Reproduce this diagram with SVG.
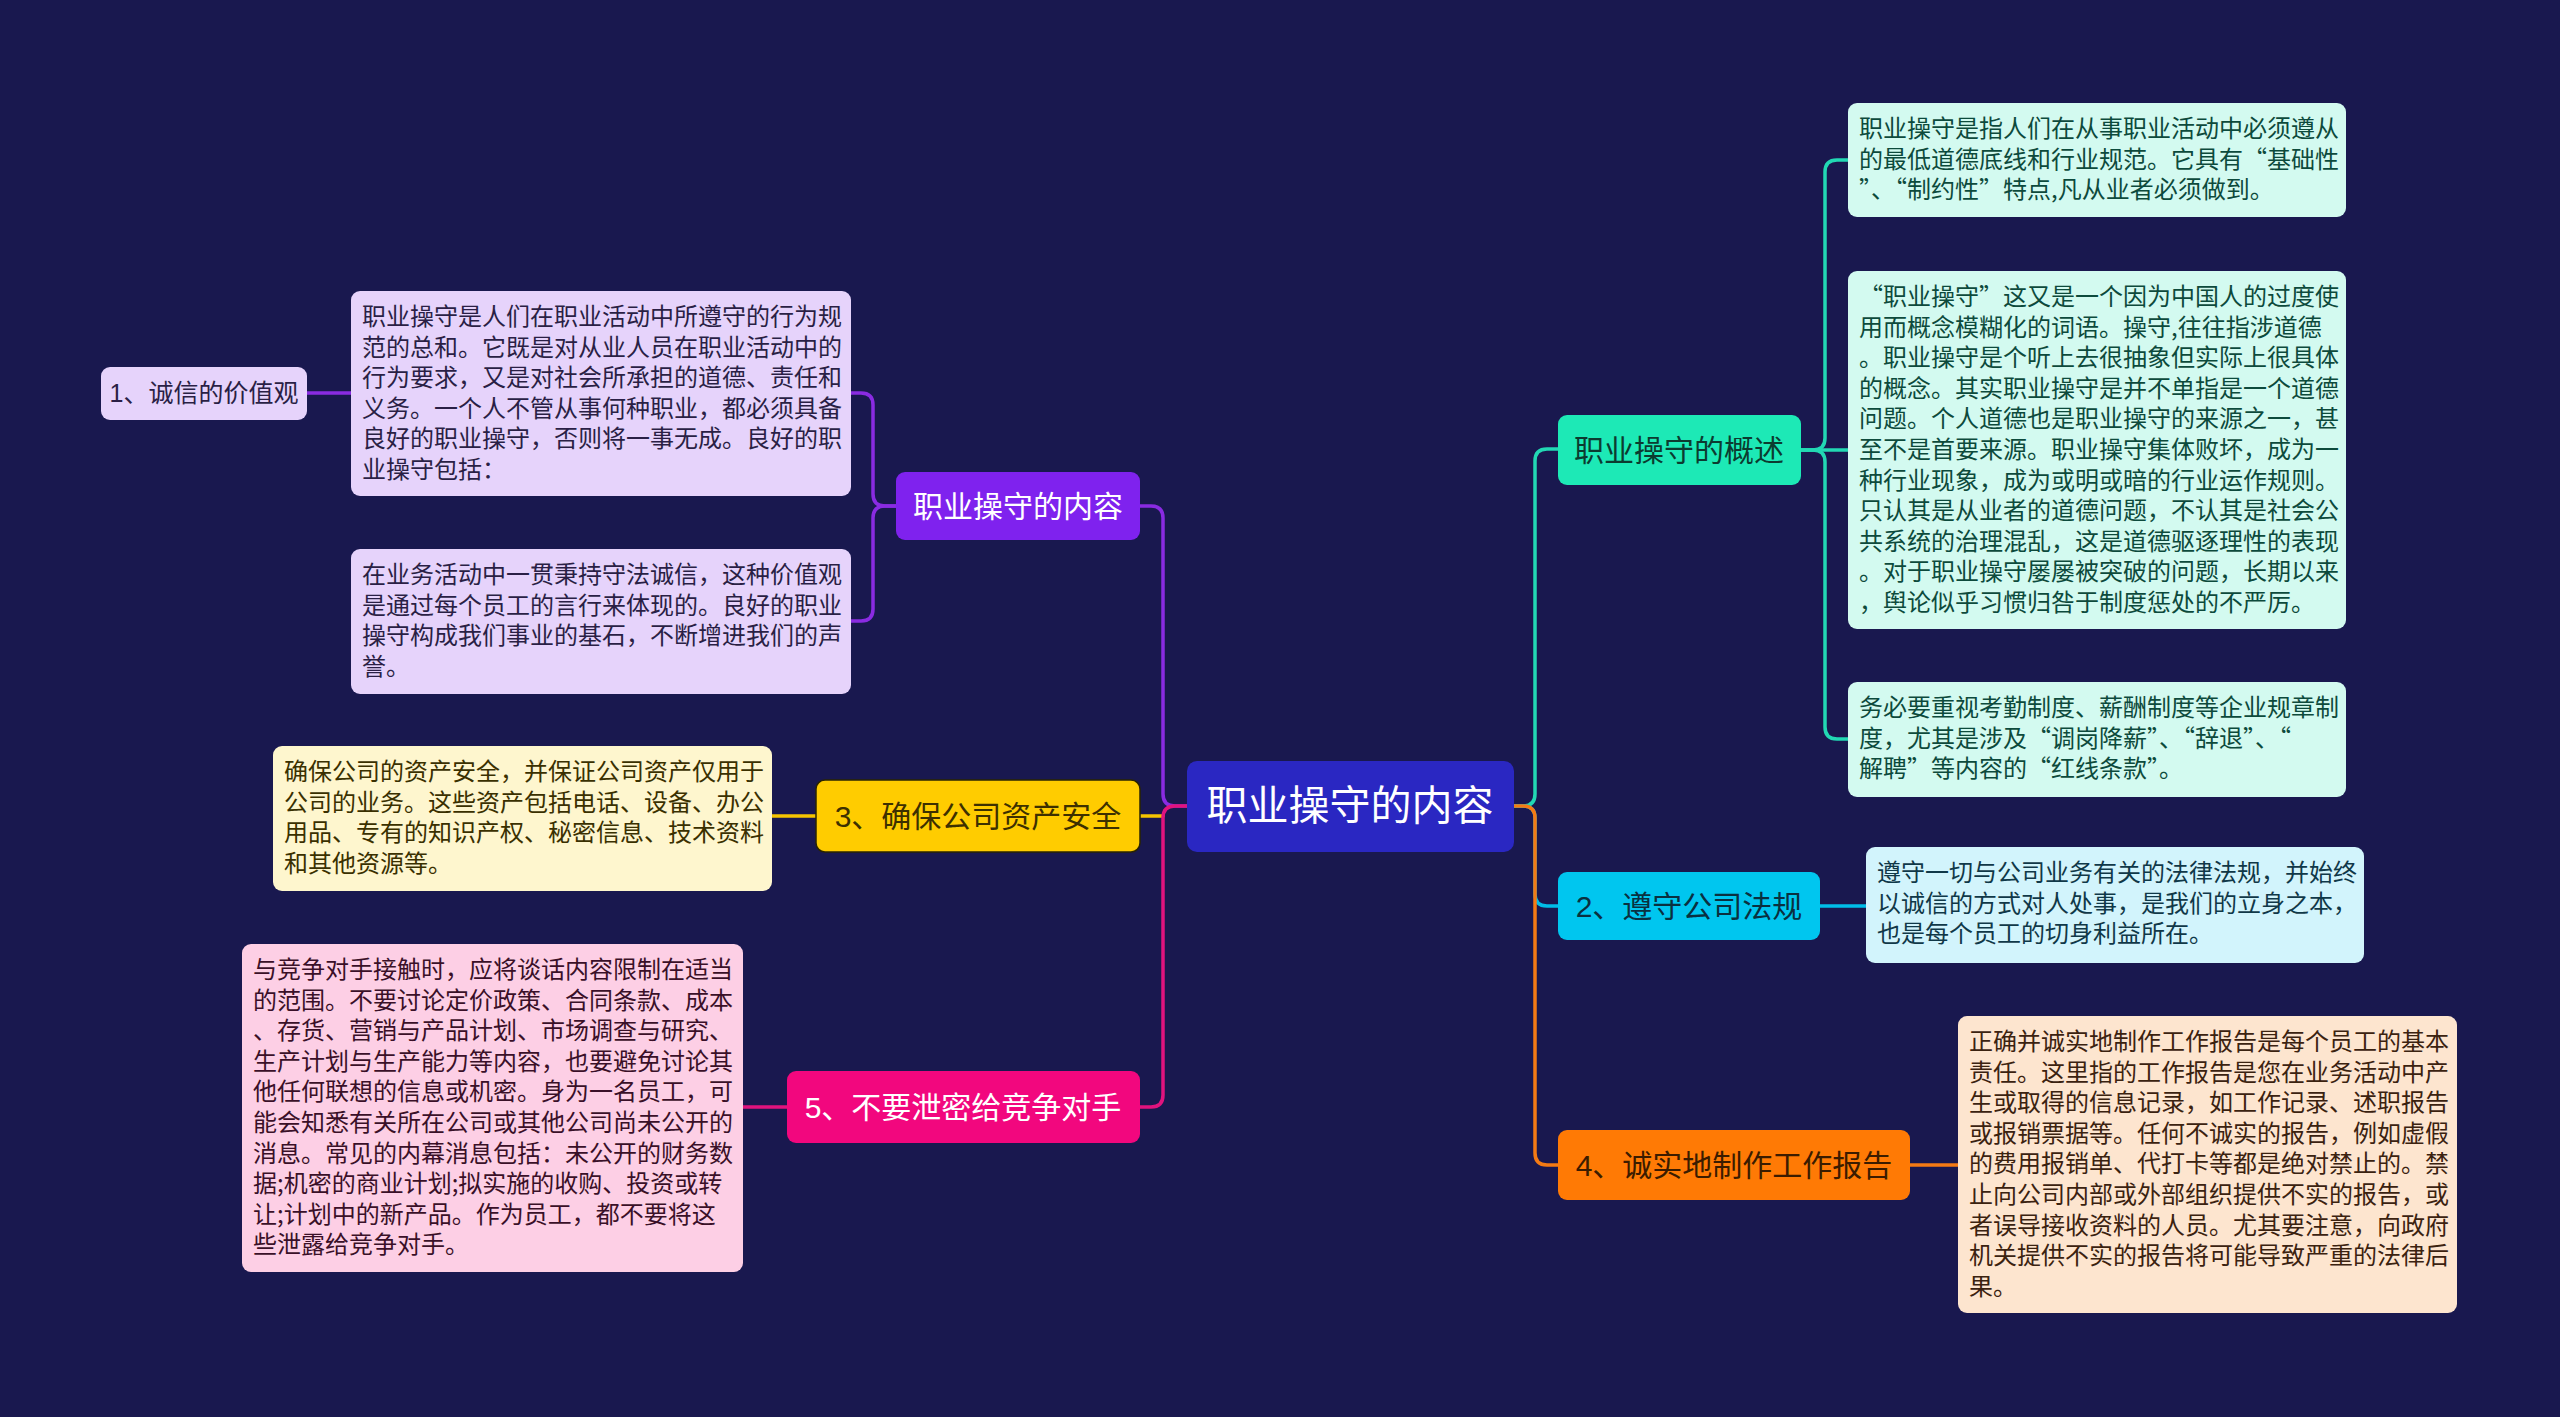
<svg xmlns="http://www.w3.org/2000/svg" width="2560" height="1417" viewBox="0 0 2560 1417">
<style>
text{font-family:"Liberation Sans","Noto Sans CJK SC",sans-serif;}
.box{font-size:24px;font-family:"Noto Sans CJK SC","Liberation Sans",sans-serif;}
.lbl{font-size:30px;text-anchor:middle;dominant-baseline:central;}
.ln{fill:none;stroke-width:3.5;stroke-linecap:round;stroke-linejoin:round;}
</style>
<rect x="0" y="0" width="2560" height="1417" fill="#19184F"/>
<g id="connectors">
<path class="ln" stroke="#8A2BE2" d="M1187,806 H1175 Q1163,806 1163,794 V518 Q1163,506 1151,506 H1140"/>
<path class="ln" stroke="#F5C400" d="M1163,816 H1140"/>
<path class="ln" stroke="#E0137E" d="M1187,806 H1175 Q1163,806 1163,818 V1095 Q1163,1107 1151,1107 H1140"/>
<path class="ln" stroke="#8A2BE2" d="M896,506 H885 Q873,506 873,494 V405 Q873,393 861,393 H851"/>
<path class="ln" stroke="#8A2BE2" d="M896,506 H885 Q873,506 873,518 V609 Q873,621 861,621 H851"/>
<path class="ln" stroke="#8A2BE2" d="M351,393 H307"/>
<path class="ln" stroke="#F5C400" d="M816,816 H772"/>
<path class="ln" stroke="#E0137E" d="M787,1107 H743"/>
<path class="ln" stroke="#22D8B4" d="M1514,806 H1523 Q1535,806 1535,794 V461 Q1535,449 1547,449 H1558"/>
<path class="ln" stroke="#00BDE8" d="M1514,806 H1523 Q1535,806 1535,818 V894 Q1535,906 1547,906 H1558"/>
<path class="ln" stroke="#F47A14" d="M1514,806 H1523 Q1535,806 1535,818 V1153 Q1535,1165 1547,1165 H1558"/>
<path class="ln" stroke="#22D8B4" d="M1801,450 H1813 Q1825,450 1825,438 V172 Q1825,160 1837,160 H1848"/>
<path class="ln" stroke="#22D8B4" d="M1801,450 H1848"/>
<path class="ln" stroke="#22D8B4" d="M1801,450 H1813 Q1825,450 1825,462 V727 Q1825,739 1837,739 H1848"/>
<path class="ln" stroke="#00BDE8" d="M1820,906 H1866"/>
<path class="ln" stroke="#F47A14" d="M1910,1165 H1958"/>
</g>
<g id="root">
<rect x="1187" y="761" width="327" height="91" rx="10" fill="#2A27C2"/>
<text x="1350" y="806" font-size="41" text-anchor="middle" dominant-baseline="central" fill="#FFFFFF">职业操守的内容</text>
</g>
<g id="n-content">
<rect x="896" y="472" width="244" height="68" rx="9" fill="#7F22EE"/>
<text class="lbl" x="1018" y="506" fill="#FFFFFF">职业操守的内容</text>
</g>
<g id="n-honesty">
<rect x="101" y="367" width="206" height="53" rx="9" fill="#E6D3FB"/>
<text x="204" y="393" font-size="25" text-anchor="middle" dominant-baseline="central" fill="#2A1F45">1、诚信的价值观</text>
</g>
<g id="t-a">
<rect x="351" y="291" width="500" height="205" rx="9" fill="#E6D3FB"/>
<text class="box" fill="#2A1F45"><tspan x="362" y="325">职业操守是人们在职业活动中所遵守的行为规</tspan><tspan x="362" y="355.6">范的总和。它既是对从业人员在职业活动中的</tspan><tspan x="362" y="386.2">行为要求，又是对社会所承担的道德、责任和</tspan><tspan x="362" y="416.8">义务。一个人不管从事何种职业，都必须具备</tspan><tspan x="362" y="447.4">良好的职业操守，否则将一事无成。良好的职</tspan><tspan x="362" y="478">业操守包括：</tspan></text>
</g>
<g id="t-b">
<rect x="351" y="549" width="500" height="145" rx="9" fill="#E6D3FB"/>
<text class="box" fill="#2A1F45"><tspan x="362" y="583">在业务活动中一贯秉持守法诚信，这种价值观</tspan><tspan x="362" y="613.6">是通过每个员工的言行来体现的。良好的职业</tspan><tspan x="362" y="644.2">操守构成我们事业的基石，不断增进我们的声</tspan><tspan x="362" y="674.8">誉。</tspan></text>
</g>
<g id="n-assets">
<rect x="816" y="780" width="324" height="72" rx="9" fill="#FFCC00" stroke="#2a2400" stroke-width="1.5"/>
<text class="lbl" x="978" y="816" fill="#3D3000">3、确保公司资产安全</text>
</g>
<g id="t-c">
<rect x="273" y="746" width="499" height="145" rx="9" fill="#FEF6CE"/>
<text class="box" fill="#3A3000"><tspan x="284" y="780">确保公司的资产安全，并保证公司资产仅用于</tspan><tspan x="284" y="810.6">公司的业务。这些资产包括电话、设备、办公</tspan><tspan x="284" y="841.2">用品、专有的知识产权、秘密信息、技术资料</tspan><tspan x="284" y="871.8">和其他资源等。</tspan></text>
</g>
<g id="n-secret">
<rect x="787" y="1071" width="353" height="72" rx="9" fill="#F2077E"/>
<text class="lbl" x="963" y="1107" fill="#FFFFFF">5、不要泄密给竞争对手</text>
</g>
<g id="t-d">
<rect x="242" y="944" width="501" height="328" rx="9" fill="#FDCFE5"/>
<text class="box" fill="#3A1028"><tspan x="253" y="978">与竞争对手接触时，应将谈话内容限制在适当</tspan><tspan x="253" y="1008.6">的范围。不要讨论定价政策、合同条款、成本</tspan><tspan x="253" y="1039.2">、存货、营销与产品计划、市场调查与研究、</tspan><tspan x="253" y="1069.8">生产计划与生产能力等内容，也要避免讨论其</tspan><tspan x="253" y="1100.4">他任何联想的信息或机密。身为一名员工，可</tspan><tspan x="253" y="1131">能会知悉有关所在公司或其他公司尚未公开的</tspan><tspan x="253" y="1161.6">消息。常见的内幕消息包括：未公开的财务数</tspan><tspan x="253" y="1192.2">据;机密的商业计划;拟实施的收购、投资或转</tspan><tspan x="253" y="1222.8">让;计划中的新产品。作为员工，都不要将这</tspan><tspan x="253" y="1253.4">些泄露给竞争对手。</tspan></text>
</g>
<g id="n-overview">
<rect x="1558" y="415" width="243" height="70" rx="9" fill="#1DE9B6"/>
<text class="lbl" x="1679" y="450" fill="#0C3B30">职业操守的概述</text>
</g>
<g id="t-e">
<rect x="1848" y="103" width="498" height="114" rx="9" fill="#D3FAF0"/>
<text class="box" fill="#0D4A3C"><tspan x="1859" y="137">职业操守是指人们在从事职业活动中必须遵从</tspan><tspan x="1859" y="167.6">的最低道德底线和行业规范。它具有“基础性</tspan><tspan x="1859" y="198.2">”、“制约性”特点,凡从业者必须做到。</tspan></text>
</g>
<g id="t-f">
<rect x="1848" y="271" width="498" height="358" rx="9" fill="#D3FAF0"/>
<text class="box" fill="#0D4A3C"><tspan x="1859" y="305">“职业操守”这又是一个因为中国人的过度使</tspan><tspan x="1859" y="335.6">用而概念模糊化的词语。操守,往往指涉道德</tspan><tspan x="1859" y="366.2">。职业操守是个听上去很抽象但实际上很具体</tspan><tspan x="1859" y="396.8">的概念。其实职业操守是并不单指是一个道德</tspan><tspan x="1859" y="427.4">问题。个人道德也是职业操守的来源之一，甚</tspan><tspan x="1859" y="458">至不是首要来源。职业操守集体败坏，成为一</tspan><tspan x="1859" y="488.6">种行业现象，成为或明或暗的行业运作规则。</tspan><tspan x="1859" y="519.2">只认其是从业者的道德问题，不认其是社会公</tspan><tspan x="1859" y="549.8">共系统的治理混乱，这是道德驱逐理性的表现</tspan><tspan x="1859" y="580.4">。对于职业操守屡屡被突破的问题，长期以来</tspan><tspan x="1859" y="611">，舆论似乎习惯归咎于制度惩处的不严厉。</tspan></text>
</g>
<g id="t-g">
<rect x="1848" y="682" width="498" height="115" rx="9" fill="#D3FAF0"/>
<text class="box" fill="#0D4A3C"><tspan x="1859" y="716">务必要重视考勤制度、薪酬制度等企业规章制</tspan><tspan x="1859" y="746.6">度，尤其是涉及“调岗降薪”、“辞退”、“</tspan><tspan x="1859" y="777.2">解聘”等内容的“红线条款”。</tspan></text>
</g>
<g id="n-law">
<rect x="1558" y="872" width="262" height="68" rx="9" fill="#00C6EF"/>
<text class="lbl" x="1689" y="906" fill="#0A3040">2、遵守公司法规</text>
</g>
<g id="t-h">
<rect x="1866" y="847" width="498" height="116" rx="9" fill="#D2F4FC"/>
<text class="box" fill="#103848"><tspan x="1877" y="881">遵守一切与公司业务有关的法律法规，并始终</tspan><tspan x="1877" y="911.6">以诚信的方式对人处事，是我们的立身之本，</tspan><tspan x="1877" y="942.2">也是每个员工的切身利益所在。</tspan></text>
</g>
<g id="n-report">
<rect x="1558" y="1130" width="352" height="70" rx="9" fill="#FF7A05"/>
<text class="lbl" x="1734" y="1165" fill="#3B1C00">4、诚实地制作工作报告</text>
</g>
<g id="t-i">
<rect x="1958" y="1016" width="499" height="297" rx="9" fill="#FDE5CF"/>
<text class="box" fill="#3B2210"><tspan x="1969" y="1050">正确并诚实地制作工作报告是每个员工的基本</tspan><tspan x="1969" y="1080.6">责任。这里指的工作报告是您在业务活动中产</tspan><tspan x="1969" y="1111.2">生或取得的信息记录，如工作记录、述职报告</tspan><tspan x="1969" y="1141.8">或报销票据等。任何不诚实的报告，例如虚假</tspan><tspan x="1969" y="1172.4">的费用报销单、代打卡等都是绝对禁止的。禁</tspan><tspan x="1969" y="1203">止向公司内部或外部组织提供不实的报告，或</tspan><tspan x="1969" y="1233.6">者误导接收资料的人员。尤其要注意，向政府</tspan><tspan x="1969" y="1264.2">机关提供不实的报告将可能导致严重的法律后</tspan><tspan x="1969" y="1294.8">果。</tspan></text>
</g>
</svg>
